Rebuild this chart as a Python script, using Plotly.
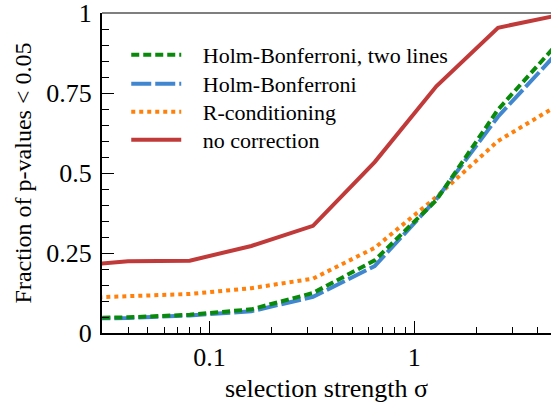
import plotly.graph_objects as go

# Data
sigma = [0.02, 0.04, 0.08, 0.16, 0.32, 0.64, 1.28, 2.56, 5.12]
holm_two_lines = [0.046, 0.049, 0.057, 0.074, 0.125, 0.227, 0.415, 0.698, 0.912]
holm = [0.044, 0.047, 0.055, 0.068, 0.113, 0.209, 0.418, 0.676, 0.884]
r_conditioning = [0.108, 0.115, 0.122, 0.140, 0.170, 0.266, 0.425, 0.600, 0.715]
no_correction = [0.208, 0.224, 0.226, 0.272, 0.335, 0.534, 0.771, 0.954, 0.994]

names = ["Holm-Bonferroni, two lines", "Holm-Bonferroni", "R-conditioning", "no correction"]
x_major = [0.1, 1]
x_major_text = ["0.1", "1"]
x_minor = [0.03, 0.04, 0.05, 0.06, 0.07, 0.08, 0.09, 0.2, 0.3, 0.4, 0.5, 0.6, 0.7, 0.8, 0.9, 2, 3, 4]
y_major = [0, 0.25, 0.5, 0.75, 1]
y_major_text = ["0", "0.25", "0.5", "0.75", "1"]

FONT = "Liberation Serif, Times New Roman, serif"
PAD = "\u00a0\u00a0\u00a0"

fig = go.Figure()
# draw order: red, orange, blue, green (green on top)
fig.add_trace(go.Scatter(x=sigma, y=no_correction, mode="lines", name=PAD + names[3],
                         legend="legend4", showlegend=True,
                         line=dict(color="#c13a3a", width=4)))
fig.add_trace(go.Scatter(x=sigma, y=r_conditioning, mode="lines", name=PAD + names[2],
                         legend="legend3", showlegend=True,
                         line=dict(color="#ff800a", width=4, dash="4px,4px")))
fig.add_trace(go.Scatter(x=sigma, y=holm, mode="lines", name=PAD + names[1],
                         legend="legend2", showlegend=True,
                         line=dict(color="#4187cf", width=4, dash="20px,4px")))
fig.add_trace(go.Scatter(x=sigma, y=holm_two_lines, mode="lines", name=PAD + names[0],
                         legend="legend", showlegend=True,
                         line=dict(color="#0a8a0a", width=4, dash="8px,4px")))


def leg(y):
    return dict(x=0.054, y=y, xanchor="left", yanchor="middle",
                bgcolor="rgba(0,0,0,0)", borderwidth=0,
                font=dict(family=FONT, size=22, color="black"),
                itemwidth=50)


fig.update_layout(
    width=551, height=406,
    showlegend=True,
    margin=dict(l=102, r=0, t=13, b=73),
    plot_bgcolor="white", paper_bgcolor="white",
    font=dict(family=FONT, size=26, color="black"),
    legend=leg(0.869), legend2=leg(0.778), legend3=leg(0.691), legend4=leg(0.603),
    xaxis=dict(type="log", range=[-1.525, 0.667],
               tickvals=x_major, ticktext=x_major_text,
               ticks="inside", ticklen=12, tickwidth=1, tickcolor="black",
               showline=True, linecolor="black", linewidth=2,
               showgrid=False, zeroline=False,
               minor=dict(tickvals=x_minor, ticks="inside", ticklen=6, tickwidth=1,
                          tickcolor="black", showgrid=False),
               title=dict(text="selection strength σ", standoff=8,
                          font=dict(family=FONT, size=26)),
               tickfont=dict(family=FONT, size=26)),
    yaxis=dict(range=[0, 1],
               tickvals=y_major, ticktext=y_major_text,
               ticks="inside", ticklen=12, tickwidth=1, tickcolor="black",
               showline=True, linecolor="black", linewidth=2,
               showgrid=False, zeroline=False, ticklabeloverflow="allow",
               ticklabelstandoff=3,
               minor=dict(dtick=0.05, ticks="inside", ticklen=7, tickwidth=1,
                          tickcolor="black", showgrid=False),
               title=dict(text="Fraction of p-values < 0.05", standoff=8,
                          font=dict(family=FONT, size=24)),
               tickfont=dict(family=FONT, size=26)),
    shapes=[dict(type="line", xref="paper", yref="paper", x0=0, x1=1, y0=1, y1=1,
                 line=dict(color="#555555", width=1.5))],
)

fig.write_html("out.html")
